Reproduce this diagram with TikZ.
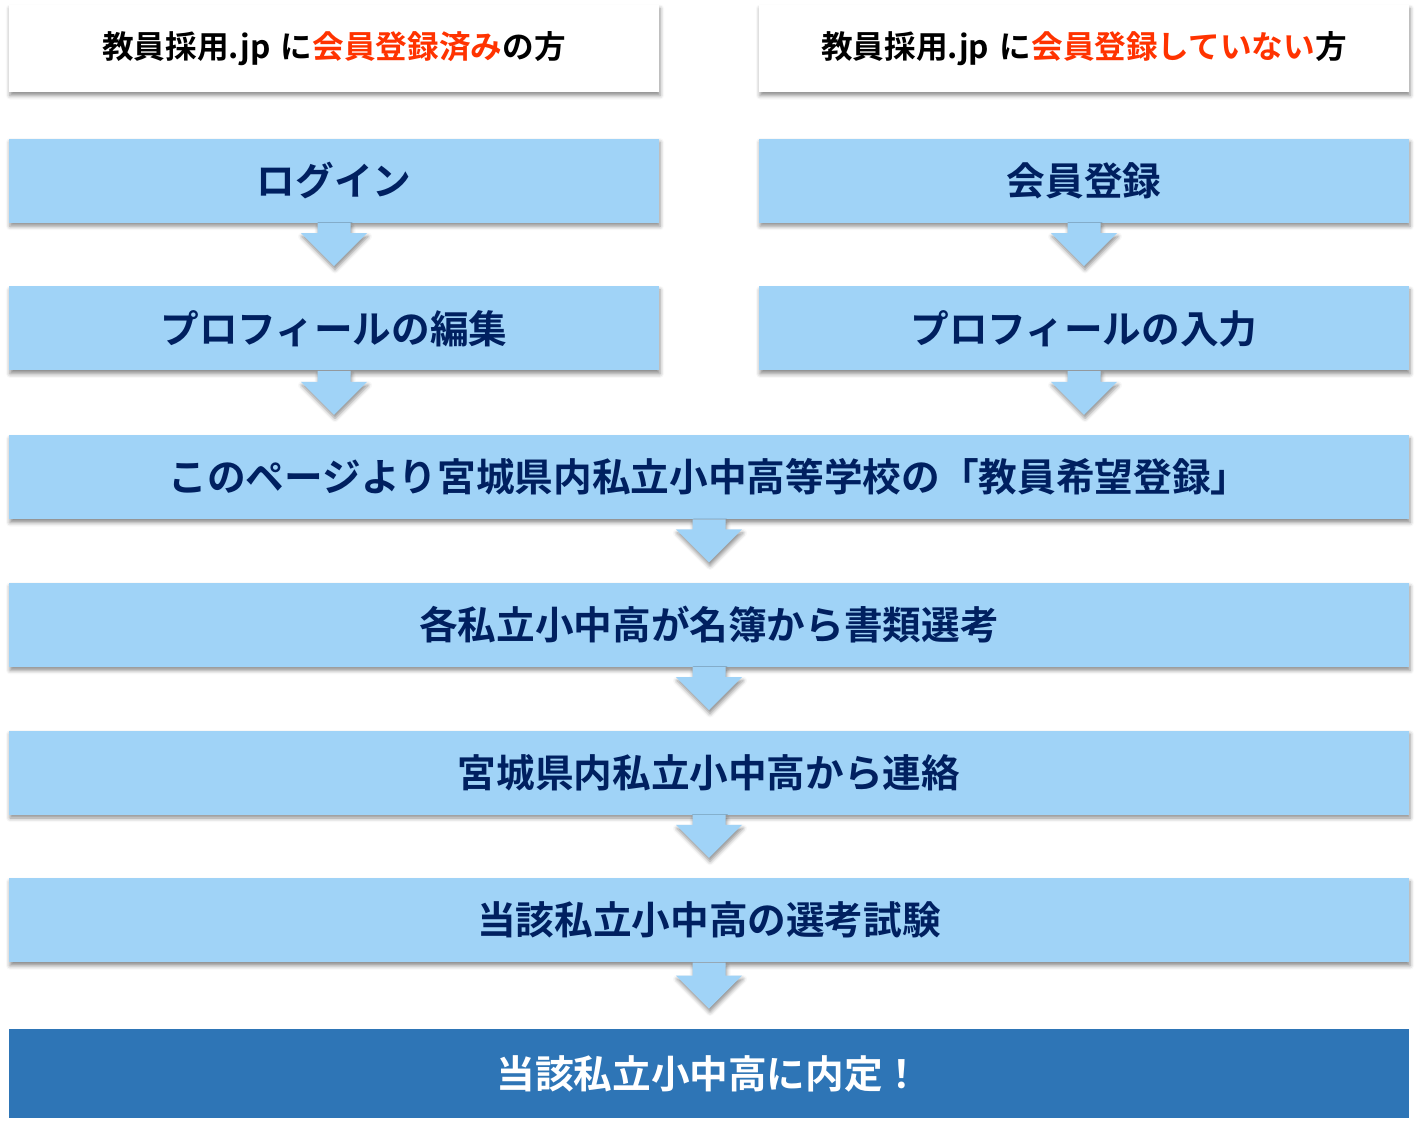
\documentclass[tikz,border=0pt]{standalone}
\usepackage{fontspec}
\setmainfont{Noto Sans CJK JP}[BoldFont={Noto Sans CJK JP Bold}]
\usepackage{xcolor}
\usepackage{tikz}
\usetikzlibrary{positioning,calc,shadows.blur}
\definecolor{flowblue}{RGB}{160,211,247}
\definecolor{textnavy}{RGB}{0,32,96}
\definecolor{signred}{RGB}{255,51,0}
\definecolor{finalblue}{RGB}{46,117,182}
\newcommand{\flowarrow}[2]{%
  \fill[arrowbody] ($(#1.south)+(-0.33,0)$) -- ($(#1.south |- #2.north)+(-0.33,1.06)$)
    -- ($(#1.south |- #2.north)+(-0.66,1.06)$) -- ($(#1.south |- #2.north)+(0,0.4)$)
    -- ($(#1.south |- #2.north)+(0.66,1.06)$) -- ($(#1.south |- #2.north)+(0.33,1.06)$)
    -- ($(#1.south)+(0.33,0)$) -- cycle;}

\begin{document}
\begin{tikzpicture}[
        node distance=1.26cm and 2cm,
        softshadow/.style={blur shadow={shadow xshift=0.02cm, shadow yshift=-0.07cm,
            shadow blur radius=0.08cm, shadow opacity=45}},
        headbox/.style={rectangle, fill=white, text=black, softshadow,
            minimum width=13cm, minimum height=1.74cm,
            align=center, font=\bfseries\fontsize{18}{21}\selectfont},
        stepbox/.style={rectangle, fill=flowblue, text=textnavy, softshadow,
            minimum width=#1, minimum height=1.68cm,
            align=center, font=\bfseries\fontsize{22}{26}\selectfont},
        stepbox/.default=13cm,
        arrowbody/.style={fill=flowblue, softshadow}
    ]
        \useasboundingbox (0,0) rectangle (28.36,-22.42);

        \node[headbox] (member) at (6.68,-0.97) {教員採用.jp\,\,に\textcolor{signred}{会員登録済み}の方};
        \node[headbox] (guest) at (21.68,-0.97) {教員採用.jp\,\,に\textcolor{signred}{会員登録していない}方};

        \node[stepbox, below=0.92cm of member] (login) {ログイン};
        \node[stepbox, below=of login] (edit) {プロフィールの編集};
        \node[stepbox, below=0.92cm of guest] (signup) {会員登録};
        \node[stepbox, below=of signup] (input) {プロフィールの入力};

        \node[stepbox=28cm, anchor=north] (wish) at ($(edit.south)!0.5!(input.south)+(0,-1.28)$) {このページより宮城県内私立小中高等学校の「教員希望登録」};
        \node[stepbox=28cm, below=of wish] (screen) {各私立小中高が名簿から書類選考};
        \node[stepbox=28cm, below=of screen] (contact) {宮城県内私立小中高から連絡};
        \node[stepbox=28cm, below=of contact] (exam) {当該私立小中高の選考試験};
        \node[rectangle, fill=finalblue, text=white, minimum width=28cm, minimum height=1.78cm,
            font=\bfseries\fontsize{22}{26}\selectfont, below=1.32cm of exam] (offer) {当該私立小中高に内定！};

        \flowarrow{login}{edit}
        \flowarrow{signup}{input}
        \flowarrow{edit}{wish}
        \flowarrow{input}{wish}
        \flowarrow{wish}{screen}
        \flowarrow{screen}{contact}
        \flowarrow{contact}{exam}
        \flowarrow{exam}{offer}
    \end{tikzpicture}
\end{document}
